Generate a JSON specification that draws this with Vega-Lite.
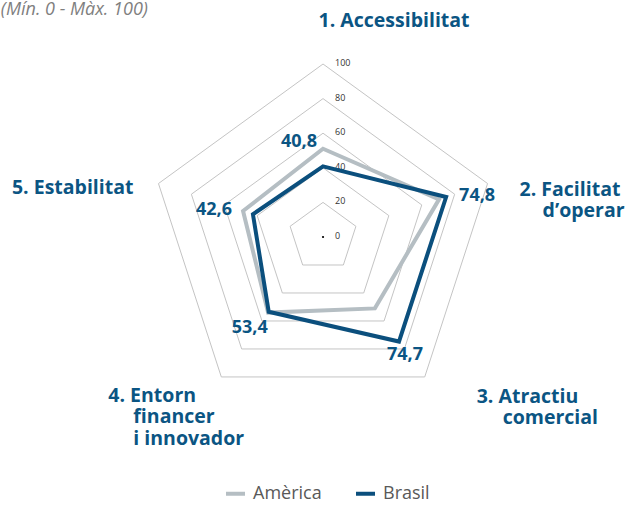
{
  "$schema": "https://vega.github.io/schema/vega-lite/v6.json",
  "width": 631,
  "height": 506,
  "autosize": {"type": "none"},
  "padding": 0,
  "config": {
    "view": {"stroke": null},
    "font": "Open Sans",
    "locale": {"number": {"decimal": ",", "thousands": ".", "grouping": [3], "currency": ["", " €"]}}
  },
  "datasets": {
    "scores": [
      {"series": "Amèrica", "k": 0, "value": 51},
      {"series": "Amèrica", "k": 1, "value": 70.5},
      {"series": "Amèrica", "k": 2, "value": 51},
      {"series": "Amèrica", "k": 3, "value": 54},
      {"series": "Amèrica", "k": 4, "value": 48.6},
      {"series": "Brasil", "k": 0, "value": 40.8},
      {"series": "Brasil", "k": 1, "value": 74.8},
      {"series": "Brasil", "k": 2, "value": 74.7},
      {"series": "Brasil", "k": 3, "value": 53.4},
      {"series": "Brasil", "k": 4, "value": 42.6}
    ],
    "grid": [
      {"level": 20, "k": [0, 1, 2, 3, 4]},
      {"level": 40, "k": [0, 1, 2, 3, 4]},
      {"level": 60, "k": [0, 1, 2, 3, 4]},
      {"level": 80, "k": [0, 1, 2, 3, 4]},
      {"level": 100, "k": [0, 1, 2, 3, 4]}
    ],
    "ticks": [
      {"tick": 0}, {"tick": 20}, {"tick": 40}, {"tick": 60}, {"tick": 80}, {"tick": 100}
    ],
    "axes": [
      {"k": 0, "head": "1. Accessibilitat", "tail": ""},
      {"k": 1, "head": "2. Facilitat", "tail": "d’operar"},
      {"k": 2, "head": "3. Atractiu", "tail": "comercial"},
      {"k": 3, "head": "4. Entorn", "tail": "financer\ni innovador"},
      {"k": 4, "head": "5. Estabilitat", "tail": ""}
    ],
    "note": [{"text": "(Mín. 0 - Màx. 100)"}],
    "center": [{"v": 0}]
  },
  "encoding": {
    "x": {"field": "px", "type": "quantitative", "scale": {"domain": [-186.7, 178.0], "nice": false, "zero": false}, "axis": null},
    "y": {"field": "py", "type": "quantitative", "scale": {"domain": [-155.5, 137.0], "nice": false, "zero": false}, "axis": null}
  },
  "layer": [
    {
      "data": {"name": "grid"},
      "transform": [
        {"flatten": ["k"]},
        {"calculate": "datum.level*sin(datum.k*2*PI/5)", "as": "px"},
        {"calculate": "datum.level*cos(datum.k*2*PI/5)", "as": "py"}
      ],
      "mark": {"type": "line", "interpolate": "linear-closed", "stroke": "#c4c4c4", "strokeWidth": 1},
      "encoding": {
        "detail": {"field": "level", "type": "nominal"},
        "order": {"field": "k", "type": "quantitative"}
      }
    },
    {
      "data": {"name": "center"},
      "transform": [
        {"calculate": "datum.v", "as": "px"},
        {"calculate": "datum.v", "as": "py"}
      ],
      "mark": {"type": "point", "filled": true, "size": 5, "color": "#000000", "opacity": 1}
    },
    {
      "data": {"name": "ticks"},
      "transform": [
        {"calculate": "0", "as": "px"},
        {"calculate": "datum.tick", "as": "py"}
      ],
      "mark": {"type": "text", "align": "left", "baseline": "middle", "dx": 12, "dy": -1, "fontSize": 9, "color": "#333333"},
      "encoding": {"text": {"field": "tick", "type": "quantitative"}}
    },
    {
      "data": {"name": "scores"},
      "transform": [
        {"calculate": "datum.value*sin(datum.k*2*PI/5)", "as": "px"},
        {"calculate": "datum.value*cos(datum.k*2*PI/5)", "as": "py"}
      ],
      "mark": {"type": "line", "interpolate": "linear-closed", "strokeWidth": 4, "strokeJoin": "miter"},
      "encoding": {
        "color": {
          "field": "series", "type": "nominal",
          "scale": {"domain": ["Amèrica", "Brasil"], "range": ["#b5bec3", "#0b4f7d"]},
          "legend": {
            "orient": "none", "legendX": 224, "legendY": 482, "direction": "horizontal", "title": null,
            "symbolType": "stroke", "symbolStrokeWidth": 4, "symbolSize": 361,
            "labelFontSize": 18, "labelColor": "#595959", "labelFont": "Open Sans",
            "columnPadding": 26, "labelOffset": 6
          }
        },
        "order": {"field": "k", "type": "quantitative"}
      }
    },
    {
      "data": {"name": "scores"},
      "transform": [
        {"filter": "datum.series == 'Brasil' && datum.k == 0"},
        {"calculate": "datum.value*sin(datum.k*2*PI/5)", "as": "px"},
        {"calculate": "datum.value*cos(datum.k*2*PI/5)", "as": "py"}
      ],
      "mark": {"type": "text", "align": "center", "baseline": "middle", "dx": -24, "dy": -24, "fontSize": 18, "fontWeight": "bold", "color": "#0b5583"},
      "encoding": {"text": {"field": "value", "type": "quantitative", "format": ".1f"}}
    },
    {
      "data": {"name": "scores"},
      "transform": [
        {"filter": "datum.series == 'Brasil' && datum.k == 1"},
        {"calculate": "datum.value*sin(datum.k*2*PI/5)", "as": "px"},
        {"calculate": "datum.value*cos(datum.k*2*PI/5)", "as": "py"}
      ],
      "mark": {"type": "text", "align": "center", "baseline": "middle", "dx": 31, "dy": -1, "fontSize": 18, "fontWeight": "bold", "color": "#0b5583"},
      "encoding": {"text": {"field": "value", "type": "quantitative", "format": ".1f"}}
    },
    {
      "data": {"name": "scores"},
      "transform": [
        {"filter": "datum.series == 'Brasil' && datum.k == 2"},
        {"calculate": "datum.value*sin(datum.k*2*PI/5)", "as": "px"},
        {"calculate": "datum.value*cos(datum.k*2*PI/5)", "as": "py"}
      ],
      "mark": {"type": "text", "align": "center", "baseline": "middle", "dx": 6, "dy": 13, "fontSize": 18, "fontWeight": "bold", "color": "#0b5583"},
      "encoding": {"text": {"field": "value", "type": "quantitative", "format": ".1f"}}
    },
    {
      "data": {"name": "scores"},
      "transform": [
        {"filter": "datum.series == 'Brasil' && datum.k == 3"},
        {"calculate": "datum.value*sin(datum.k*2*PI/5)", "as": "px"},
        {"calculate": "datum.value*cos(datum.k*2*PI/5)", "as": "py"}
      ],
      "mark": {"type": "text", "align": "center", "baseline": "middle", "dx": -19, "dy": 16, "fontSize": 18, "fontWeight": "bold", "color": "#0b5583"},
      "encoding": {"text": {"field": "value", "type": "quantitative", "format": ".1f"}}
    },
    {
      "data": {"name": "scores"},
      "transform": [
        {"filter": "datum.series == 'Brasil' && datum.k == 4"},
        {"calculate": "datum.value*sin(datum.k*2*PI/5)", "as": "px"},
        {"calculate": "datum.value*cos(datum.k*2*PI/5)", "as": "py"}
      ],
      "mark": {"type": "text", "align": "center", "baseline": "middle", "dx": -39, "dy": -4, "fontSize": 18, "fontWeight": "bold", "color": "#0b5583"},
      "encoding": {"text": {"field": "value", "type": "quantitative", "format": ".1f"}}
    },
    {
      "data": {"name": "axes"},
      "transform": [
        {"filter": "datum.k == 0"},
        {"calculate": "100*sin(datum.k*2*PI/5)", "as": "px"},
        {"calculate": "100*cos(datum.k*2*PI/5)", "as": "py"}
      ],
      "mark": {"type": "text", "align": "center", "baseline": "middle", "dx": 71, "dy": -43, "fontSize": 19.5, "fontWeight": "bold", "color": "#0b5583"},
      "encoding": {"text": {"field": "head", "type": "nominal"}}
    },
    {
      "data": {"name": "axes"},
      "transform": [
        {"filter": "datum.k == 1"},
        {"calculate": "100*sin(datum.k*2*PI/5)", "as": "px"},
        {"calculate": "100*cos(datum.k*2*PI/5)", "as": "py"}
      ],
      "mark": {"type": "text", "align": "left", "baseline": "middle", "dx": 32, "dy": 6, "fontSize": 19.5, "fontWeight": "bold", "color": "#0b5583"},
      "encoding": {"text": {"field": "head", "type": "nominal"}}
    },
    {
      "data": {"name": "axes"},
      "transform": [
        {"filter": "datum.k == 1"},
        {"calculate": "100*sin(datum.k*2*PI/5)", "as": "px"},
        {"calculate": "100*cos(datum.k*2*PI/5)", "as": "py"}
      ],
      "mark": {"type": "text", "align": "left", "baseline": "middle", "dx": 55, "dy": 27.5, "fontSize": 19.5, "fontWeight": "bold", "color": "#0b5583"},
      "encoding": {"text": {"field": "tail", "type": "nominal"}}
    },
    {
      "data": {"name": "axes"},
      "transform": [
        {"filter": "datum.k == 2"},
        {"calculate": "100*sin(datum.k*2*PI/5)", "as": "px"},
        {"calculate": "100*cos(datum.k*2*PI/5)", "as": "py"}
      ],
      "mark": {"type": "text", "align": "left", "baseline": "middle", "dx": 52, "dy": 20, "fontSize": 19.5, "fontWeight": "bold", "color": "#0b5583"},
      "encoding": {"text": {"field": "head", "type": "nominal"}}
    },
    {
      "data": {"name": "axes"},
      "transform": [
        {"filter": "datum.k == 2"},
        {"calculate": "100*sin(datum.k*2*PI/5)", "as": "px"},
        {"calculate": "100*cos(datum.k*2*PI/5)", "as": "py"}
      ],
      "mark": {"type": "text", "align": "left", "baseline": "middle", "dx": 78, "dy": 41, "fontSize": 19.5, "fontWeight": "bold", "color": "#0b5583"},
      "encoding": {"text": {"field": "tail", "type": "nominal"}}
    },
    {
      "data": {"name": "axes"},
      "transform": [
        {"filter": "datum.k == 3"},
        {"calculate": "100*sin(datum.k*2*PI/5)", "as": "px"},
        {"calculate": "100*cos(datum.k*2*PI/5)", "as": "py"}
      ],
      "mark": {"type": "text", "align": "left", "baseline": "middle", "dx": -113, "dy": 19, "fontSize": 19.5, "fontWeight": "bold", "color": "#0b5583"},
      "encoding": {"text": {"field": "head", "type": "nominal"}}
    },
    {
      "data": {"name": "axes"},
      "transform": [
        {"filter": "datum.k == 3"},
        {"calculate": "100*sin(datum.k*2*PI/5)", "as": "px"},
        {"calculate": "100*cos(datum.k*2*PI/5)", "as": "py"}
      ],
      "mark": {"type": "text", "align": "left", "baseline": "middle", "dx": -88, "dy": 40.5, "fontSize": 19.5, "fontWeight": "bold", "color": "#0b5583", "lineBreak": "\n", "lineHeight": 21.5},
      "encoding": {"text": {"field": "tail", "type": "nominal"}}
    },
    {
      "data": {"name": "axes"},
      "transform": [
        {"filter": "datum.k == 4"},
        {"calculate": "100*sin(datum.k*2*PI/5)", "as": "px"},
        {"calculate": "100*cos(datum.k*2*PI/5)", "as": "py"}
      ],
      "mark": {"type": "text", "align": "right", "baseline": "middle", "dx": -25, "dy": 4.5, "fontSize": 19.5, "fontWeight": "bold", "color": "#0b5583"},
      "encoding": {"text": {"field": "head", "type": "nominal"}}
    },
    {
      "data": {"name": "note"},
      "transform": [
        {"calculate": "-101.2", "as": "px"},
        {"calculate": "131.5", "as": "py"}
      ],
      "mark": {"type": "text", "align": "right", "baseline": "middle", "fontSize": 18, "fontStyle": "italic", "color": "#7f7f7f"},
      "encoding": {"text": {"field": "text", "type": "nominal"}}
    }
  ]
}
